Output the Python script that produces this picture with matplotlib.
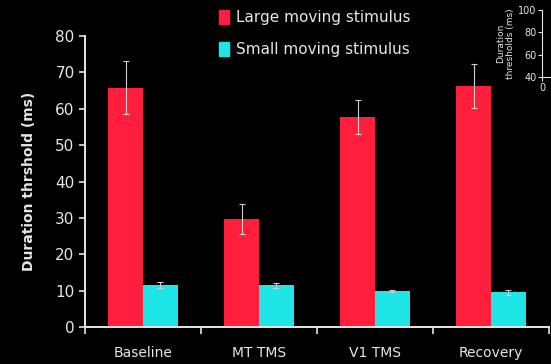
import numpy as np
import matplotlib
matplotlib.use("Agg")
import matplotlib.pyplot as plt
from matplotlib.patches import Patch

conditions = ["Baseline", "MT TMS", "V1 TMS", "Recovery"]
large_mean = [65.8, 29.7, 57.7, 66.2]
large_err = [7.2, 4.2, 4.7, 6.0]
small_mean = [11.6, 11.5, 9.8, 9.5]
small_err = [0.8, 0.7, 0.3, 0.6]

# stray axis from a neighbouring panel, cropped in the top-right corner
inset_ticks = [40, 60, 80, 100]

RED = "#ff1e3c"
CYAN = "#1ee6e6"
FG = "#e6e6e6"

fig = plt.figure(figsize=(5.51, 3.64), dpi=100, facecolor="black")
ax = fig.add_axes([85 / 551, 37 / 364, 464 / 551, 291 / 364], facecolor="black")

x = np.arange(len(conditions))
w = 0.3
ax.bar(x - w / 2, large_mean, w, color=RED, label="Large moving stimulus")
ax.bar(x + w / 2, small_mean, w, color=CYAN, label="Small moving stimulus")
ax.errorbar(x - w / 2, large_mean, yerr=large_err, fmt="none", ecolor="#cfcfcf",
            elinewidth=0.8, capsize=2.5, capthick=0.8)
ax.errorbar(x + w / 2, small_mean, yerr=small_err, fmt="none", ecolor="#cfcfcf",
            elinewidth=0.8, capsize=2.5, capthick=0.8)

ax.set_xlim(-0.5, 3.5)
ax.set_ylim(0, 80)
ax.set_yticks(range(0, 81, 10))
ax.set_xticks(x)
ax.set_xticklabels(conditions, color=FG, fontsize=10)
ax.tick_params(axis="x", which="major", length=0, pad=14)
ax.set_xticks(np.arange(-0.5, 4, 1), minor=True)
ax.tick_params(axis="x", which="minor", length=5, color=FG, width=1.2)
ax.tick_params(axis="y", colors=FG, labelsize=11, length=4, width=1.2)

for side in ["top", "right"]:
    ax.spines[side].set_visible(False)
for side in ["left", "bottom"]:
    ax.spines[side].set_color(FG)
    ax.spines[side].set_linewidth(1.4)

ax.set_ylabel("Duration thrshold (ms)", color=FG, fontsize=10, fontweight="bold", labelpad=14)

handles = [Patch(color=RED), Patch(color=CYAN)]
fig.legend(handles, ["Large moving stimulus", "Small moving stimulus"],
           loc="upper left", bbox_to_anchor=(205 / 551, 1.01), frameon=False,
           labelcolor=FG, fontsize=11, handlelength=0.7, handleheight=1.0,
           handletextpad=0.4, labelspacing=1.1)

# cropped neighbouring panel
ins = fig.add_axes([542 / 551, (364 - 77) / 364, 0.05, 67 / 364], facecolor="black")
ins.set_ylim(40, 100)
ins.set_yticks(inset_ticks)
ins.set_xticks([0])
ins.tick_params(colors=FG, labelsize=7, length=3, pad=1)
for side in ["top", "right"]:
    ins.spines[side].set_visible(False)
for side in ["left", "bottom"]:
    ins.spines[side].set_color(FG)
ins.set_ylabel("Duration\nthresholds (ms)", color=FG, fontsize=6.5, labelpad=2)

fig.savefig("out.png", dpi=100, facecolor="black")
